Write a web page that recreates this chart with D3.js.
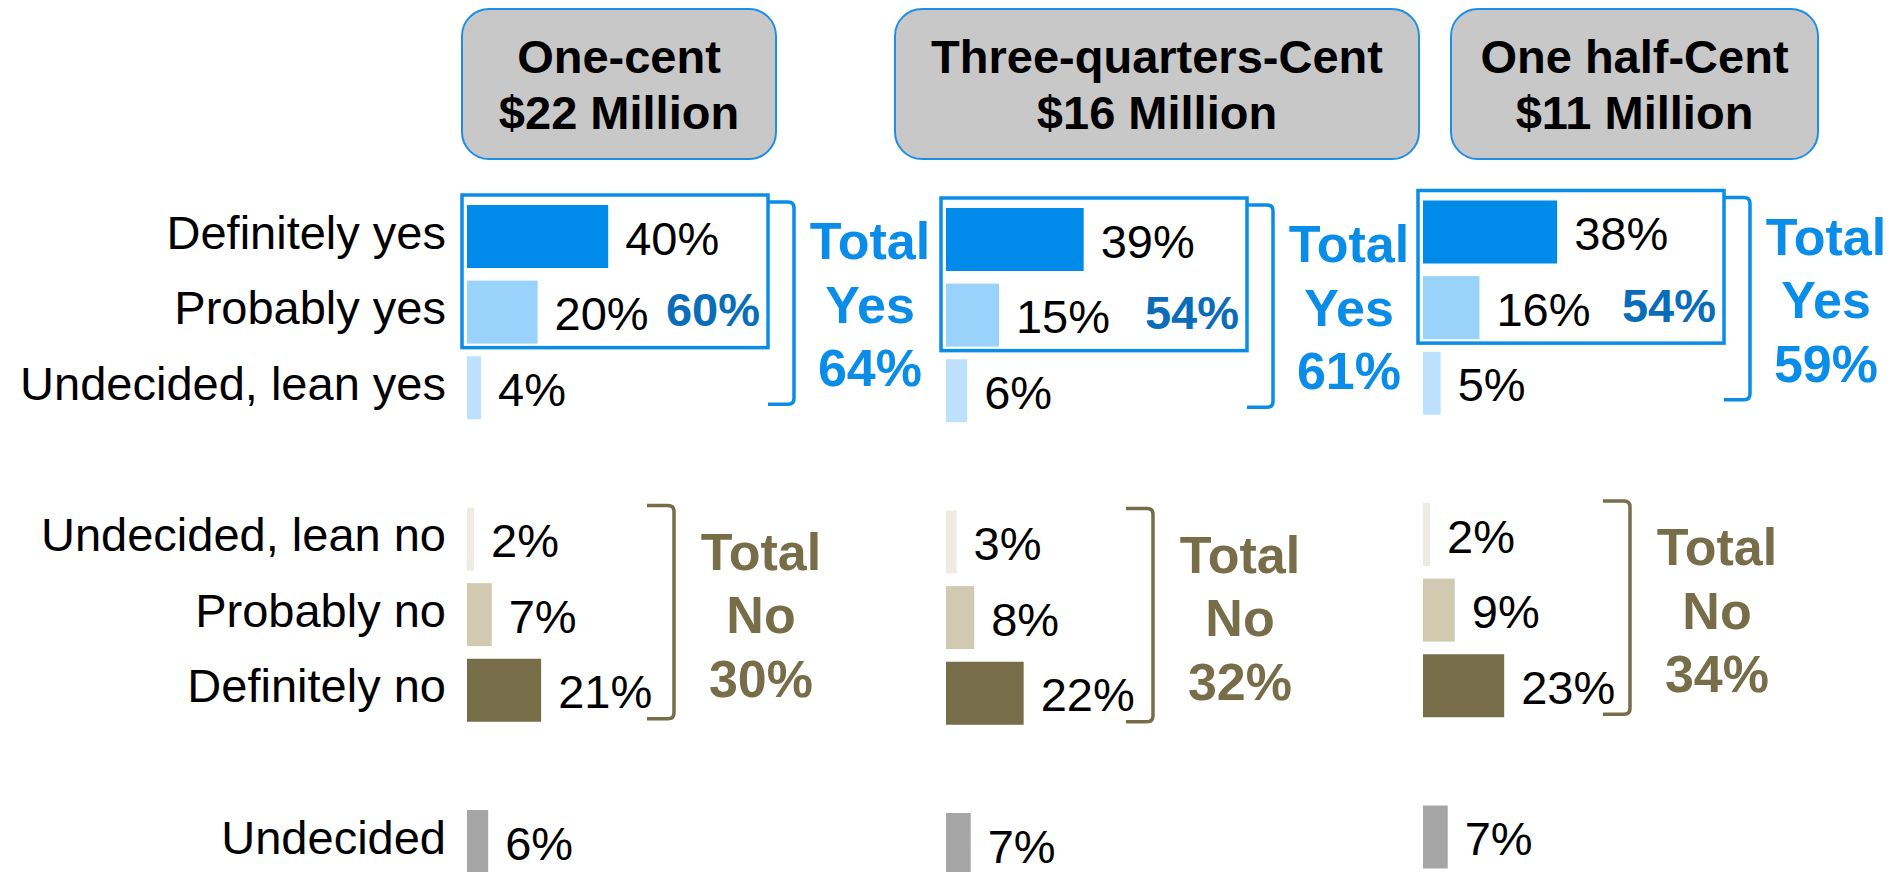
<!DOCTYPE html>
<html>
<head>
<meta charset="utf-8">
<script src="https://cdn.jsdelivr.net/npm/d3@7"></script>
<style>
  html, body { margin: 0; padding: 0; background: #fff; }
  svg { display: block; font-family: "Liberation Sans", Arial, sans-serif; }
</style>
</head>
<body>
<div id="chart"></div>
<script>
// Ballot test by tax rate option
const rowLabels = ['Definitely yes', 'Probably yes', 'Undecided, lean yes',
  'Undecided, lean no', 'Probably no', 'Definitely no', 'Undecided'];
const optionNames = ['One-cent', 'Three-quarters-Cent', 'One half-Cent'];
const optionAmounts = ['$22 Million', '$16 Million', '$11 Million'];
const oneCent = [40, 20, 4, 2, 7, 21, 6];
const threeQuarterCent = [39, 15, 6, 3, 8, 22, 7];
const halfCent = [38, 16, 5, 2, 9, 23, 7];
const definiteProbableYes = [60, 54, 54];
const totalYes = [64, 61, 59];
const totalNo = [30, 32, 34];

const seriesByOption = [oneCent, threeQuarterCent, halfCent];

// Styling
const rowColors = ['#008bea', '#99d2fb', '#bde1fc', '#edebe2', '#d1cab0', '#776e49', '#a6a6a6'];
const blue = '#0a8de8';
const darkBlue = '#0a6dba';
const olive = '#776e49';
const rowSlot = [0, 1, 2, 4, 5, 6, 8]; // gaps between the groups

const width = 1893, height = 872;
const barH = 63;

const svg = d3.select('#chart').append('svg')
  .attr('width', width)
  .attr('height', height)
  .attr('viewBox', [0, 0, width, height]);

const x = d3.scaleLinear().domain([0, 100]).range([0, 353]);
const y = d3.scaleLinear().domain([0, 8]).range([205, 810]);

// column placement
const cols = [
  { barLeft: 467, dy: 0, head: [462, 776] },
  { barLeft: 946, dy: 3, head: [895, 1419] },
  { barLeft: 1423, dy: -4.5, head: [1451, 1818] }
];

// row labels (left)
svg.append('g')
  .selectAll('text')
  .data(rowLabels)
  .join('text')
  .attr('x', 446)
  .attr('y', (d, i) => y(rowSlot[i]) + barH / 2 + 12)
  .attr('text-anchor', 'end')
  .attr('font-size', 47)
  .attr('fill', '#000')
  .text(d => d);

cols.forEach((c, ci) => {
  const g = svg.append('g');
  const top = i => y(rowSlot[i]) + c.dy;
  const values = seriesByOption[ci];

  // header box
  g.append('rect')
    .attr('x', c.head[0]).attr('y', 9)
    .attr('width', c.head[1] - c.head[0]).attr('height', 150)
    .attr('rx', 27).attr('ry', 27)
    .attr('fill', '#c8c8c8')
    .attr('stroke', '#1f8fe6')
    .attr('stroke-width', 2);
  const hc = (c.head[0] + c.head[1]) / 2;
  g.append('text')
    .attr('x', hc).attr('y', 73)
    .attr('text-anchor', 'middle')
    .attr('font-size', 47).attr('font-weight', 'bold')
    .text(optionNames[ci]);
  g.append('text')
    .attr('x', hc).attr('y', 129)
    .attr('text-anchor', 'middle')
    .attr('font-size', 47).attr('font-weight', 'bold')
    .text(optionAmounts[ci]);

  // bars
  g.selectAll('rect.bar')
    .data(values)
    .join('rect')
    .attr('class', 'bar')
    .attr('x', c.barLeft)
    .attr('y', (d, i) => top(i))
    .attr('width', d => x(d))
    .attr('height', barH)
    .attr('fill', (d, i) => rowColors[i]);

  // value labels
  g.selectAll('text.val')
    .data(values)
    .join('text')
    .attr('class', 'val')
    .attr('x', d => c.barLeft + x(d) + 17)
    .attr('y', (d, i) => top(i) + barH / 2 + 18)
    .attr('font-size', 47)
    .attr('fill', '#000')
    .text(d => d + '%');

  // box around definitely + probably yes
  const boxL = c.barLeft - 5, boxR = c.barLeft + 301;
  const boxT = top(0) - 10, boxB = top(1) + barH + 4;
  g.append('rect')
    .attr('x', boxL).attr('y', boxT)
    .attr('width', boxR - boxL).attr('height', boxB - boxT)
    .attr('fill', 'none')
    .attr('stroke', blue)
    .attr('stroke-width', 3.5);
  g.append('text')
    .attr('x', boxR - 8)
    .attr('y', top(1) + barH / 2 + 14)
    .attr('text-anchor', 'end')
    .attr('font-size', 47).attr('font-weight', 'bold')
    .attr('fill', darkBlue)
    .text(definiteProbableYes[ci] + '%');

  // brackets
  const bracket = (x0, x1, y0, y1) => {
    const r = 6;
    return `M${x0},${y0} L${x1 - r},${y0} Q${x1},${y0} ${x1},${y0 + r} ` +
      `L${x1},${y1 - r} Q${x1},${y1} ${x1 - r},${y1} L${x0},${y1}`;
  };
  g.append('path')
    .attr('d', bracket(boxR, c.barLeft + 327, top(0) - 3, top(2) + barH - 15))
    .attr('fill', 'none')
    .attr('stroke', blue)
    .attr('stroke-width', 3.5);
  g.append('path')
    .attr('d', bracket(c.barLeft + 180, c.barLeft + 207, top(3) - 2, top(5) + barH - 3))
    .attr('fill', 'none')
    .attr('stroke', olive)
    .attr('stroke-width', 3.5);

  // totals
  const yesLines = ['Total', 'Yes', totalYes[ci] + '%'];
  g.append('g')
    .selectAll('text')
    .data(yesLines)
    .join('text')
    .attr('x', c.barLeft + 403)
    .attr('y', (d, i) => top(0) + 54 + i * 63.5)
    .attr('text-anchor', 'middle')
    .attr('font-size', 52).attr('font-weight', 'bold')
    .attr('fill', blue)
    .text(d => d);

  const noLines = ['Total', 'No', totalNo[ci] + '%'];
  g.append('g')
    .selectAll('text')
    .data(noLines)
    .join('text')
    .attr('x', c.barLeft + 294)
    .attr('y', (d, i) => top(3) + 62 + i * 63.5)
    .attr('text-anchor', 'middle')
    .attr('font-size', 52).attr('font-weight', 'bold')
    .attr('fill', olive)
    .text(d => d);
});
</script>
</body>
</html>
